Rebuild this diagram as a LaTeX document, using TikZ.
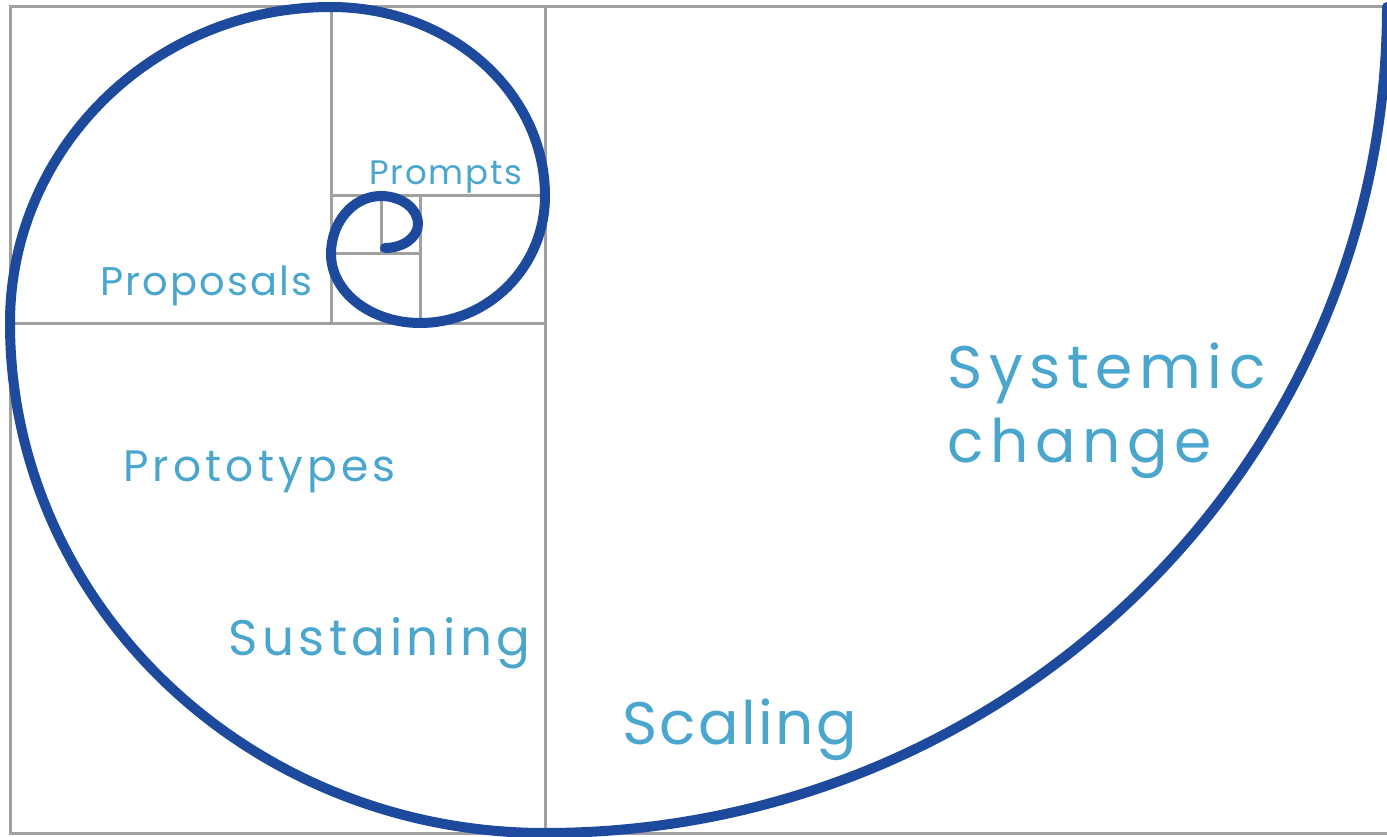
\documentclass[tikz,border=0pt]{standalone}
\usepackage{fontspec}
\setmainfont{Poppins}
\definecolor{spiralblue}{HTML}{1D4A9C}
\definecolor{labelblue}{HTML}{4BA6CE}
\definecolor{gridgray}{HTML}{A0A0A0}
\newcommand{\stagefont}[2]{\fontsize{#1}{74}\selectfont\addfontfeature{LetterSpace=#2}}
\tikzset{
  grid line/.style={draw=gridgray,line width=3pt},
  spiral/.style={draw=spiralblue,line width=10pt,line cap=round},
  stage/.style={text=labelblue,inner sep=0pt,anchor=base west,align=left}
}
\begin{document}
\begin{tikzpicture}[x=1pt,y=-1pt]
    \useasboundingbox (0,0) rectangle (1387,837);

    % --------------------------------------------------------- %
    % ------------- squares of the golden rectangle
    % --------------------------------------------------------- %
    \draw[grid line] (1390,7) -- (10,7) -- (10,833) -- (1390,833);
    \draw[grid line] (545,7) -- (545,833);
    \draw[grid line] (10,323) -- (545,323);
    \draw[grid line] (331,7) -- (331,323);
    \draw[grid line] (331,196) -- (545,196);
    \draw[grid line] (420,196) -- (420,323);
    \draw[grid line] (331,254) -- (420,254);
    \draw[grid line] (381,196) -- (381,254);

    % --------------------------------------------------------- %
    % ------------- spiral
    % --------------------------------------------------------- %
    \draw[spiral] (1387,7)
      arc[start angle=0,end angle=90,x radius=842,y radius=826]
      arc[start angle=90,end angle=180,x radius=535,y radius=510]
      arc[start angle=180,end angle=270,x radius=321,y radius=316]
      arc[start angle=270,end angle=360,x radius=214,y radius=189]
      arc[start angle=0,end angle=90,x radius=125,y radius=127]
      arc[start angle=90,end angle=180,x radius=89,y radius=69]
      arc[start angle=180,end angle=270,x radius=50,y radius=58]
      arc[start angle=270,end angle=360,x radius=37,y radius=28]
      arc[start angle=0,end angle=90,x radius=33,y radius=24];

    % --------------------------------------------------------- %
    % ------------- stages
    % --------------------------------------------------------- %
    \node[stage,font=\stagefont{34}{5.5}] (prompts) at (369,185) {Prompts};
    \node[stage,font=\stagefont{40}{5.5}] (proposals) at (100,295) {Proposals};
    \node[stage,font=\stagefont{44}{9.5}] (prototypes) at (123,481) {Prototypes};
    \node[stage,font=\stagefont{50}{9}] (sustaining) at (228,655) {Sustaining};
    \node[stage,font=\stagefont{60}{4}] (scaling) at (622,744) {Scaling};
    \node[stage,font=\stagefont{60}{11}] (systemic) at (947,462) {Systemic\\change};

  \end{tikzpicture}
\end{document}
